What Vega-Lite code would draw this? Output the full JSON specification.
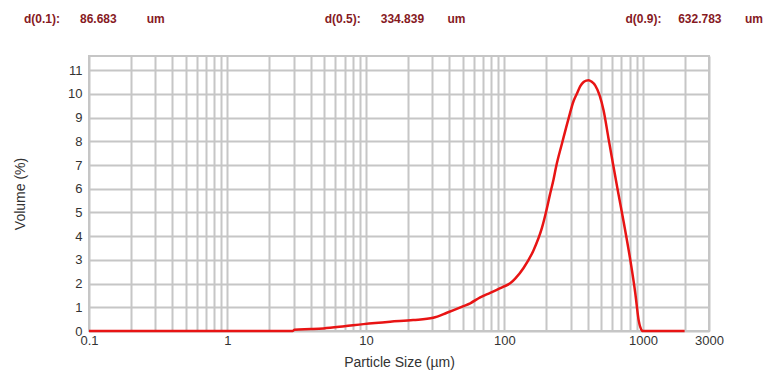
{
  "$schema": "https://vega.github.io/schema/vega-lite/v6.json",
  "width": 620,
  "height": 275,
  "autosize": {"type": "none"},
  "padding": {"left": 89, "top": 56, "right": 57, "bottom": 41},
  "background": "white",
  "config": {
    "font": "Liberation Sans",
    "view": {"stroke": "#c6c6c6", "strokeWidth": 2},
    "axis": {
      "domain": false,
      "ticks": false,
      "gridColor": "#c6c6c6",
      "gridWidth": 2,
      "gridOpacity": 1,
      "labelFont": "Liberation Sans",
      "labelFontSize": 13,
      "labelColor": "#333333",
      "titleFont": "Liberation Sans",
      "titleFontSize": 14,
      "titleFontWeight": "normal",
      "titleColor": "#333333"
    }
  },
  "title": {
    "text": "d(0.1):\u00a0\u00a0\u00a0\u00a0\u00a0\u00a086.683\u00a0\u00a0\u00a0\u00a0\u00a0\u00a0\u00a0\u00a0\u00a0um\u00a0\u00a0\u00a0\u00a0\u00a0\u00a0\u00a0\u00a0\u00a0\u00a0\u00a0\u00a0\u00a0\u00a0\u00a0\u00a0\u00a0\u00a0\u00a0\u00a0\u00a0\u00a0\u00a0\u00a0\u00a0\u00a0\u00a0\u00a0\u00a0\u00a0\u00a0\u00a0\u00a0\u00a0\u00a0\u00a0\u00a0\u00a0\u00a0\u00a0\u00a0\u00a0\u00a0\u00a0\u00a0\u00a0\u00a0\u00a0d(0.5):\u00a0\u00a0\u00a0\u00a0\u00a0\u00a0334.839\u00a0\u00a0\u00a0\u00a0\u00a0\u00a0\u00a0um\u00a0\u00a0\u00a0\u00a0\u00a0\u00a0\u00a0\u00a0\u00a0\u00a0\u00a0\u00a0\u00a0\u00a0\u00a0\u00a0\u00a0\u00a0\u00a0\u00a0\u00a0\u00a0\u00a0\u00a0\u00a0\u00a0\u00a0\u00a0\u00a0\u00a0\u00a0\u00a0\u00a0\u00a0\u00a0\u00a0\u00a0\u00a0\u00a0\u00a0\u00a0\u00a0\u00a0\u00a0\u00a0\u00a0\u00a0\u00a0d(0.9):\u00a0\u00a0\u00a0\u00a0\u00a0632.783\u00a0\u00a0\u00a0\u00a0\u00a0\u00a0\u00a0um",
    "anchor": "start",
    "frame": "group",
    "dx": -65,
    "limit": 2000,
    "font": "Liberation Sans",
    "fontSize": 12,
    "fontWeight": "bold",
    "color": "#861a1f",
    "offset": 30
  },
  "data": {
    "values": [
      {"size": 0.1, "vol": 0},
      {"size": 1, "vol": 0},
      {"size": 2.95, "vol": 0},
      {"size": 3.05, "vol": 0.05},
      {"size": 4.0, "vol": 0.08},
      {"size": 4.93, "vol": 0.11},
      {"size": 7.0, "vol": 0.2},
      {"size": 9.59, "vol": 0.29},
      {"size": 14.96, "vol": 0.39},
      {"size": 21.9, "vol": 0.46},
      {"size": 30.6, "vol": 0.56},
      {"size": 38.4, "vol": 0.77},
      {"size": 50.6, "vol": 1.05},
      {"size": 56.6, "vol": 1.17},
      {"size": 66.8, "vol": 1.42},
      {"size": 78.9, "vol": 1.61},
      {"size": 98.5, "vol": 1.87},
      {"size": 110, "vol": 2.01},
      {"size": 120, "vol": 2.22},
      {"size": 137.4, "vol": 2.66},
      {"size": 162.3, "vol": 3.41},
      {"size": 186.5, "vol": 4.35},
      {"size": 203, "vol": 5.2},
      {"size": 212, "vol": 5.7},
      {"size": 226.4, "vol": 6.4},
      {"size": 236.5, "vol": 6.95},
      {"size": 260, "vol": 7.9},
      {"size": 290, "vol": 8.95},
      {"size": 315.7, "vol": 9.7},
      {"size": 334, "vol": 10.02},
      {"size": 353, "vol": 10.33},
      {"size": 373, "vol": 10.5},
      {"size": 390, "vol": 10.56},
      {"size": 405.5, "vol": 10.58},
      {"size": 425, "vol": 10.52},
      {"size": 453, "vol": 10.35},
      {"size": 486, "vol": 9.95},
      {"size": 520, "vol": 9.3},
      {"size": 565, "vol": 8.1},
      {"size": 610, "vol": 7.0},
      {"size": 655, "vol": 6.0},
      {"size": 726, "vol": 4.6},
      {"size": 811, "vol": 2.99},
      {"size": 881, "vol": 1.59},
      {"size": 931, "vol": 0.46},
      {"size": 985, "vol": 0.02},
      {"size": 1000, "vol": 0},
      {"size": 2000, "vol": 0}
    ]
  },
  "mark": {"type": "line", "color": "#e81414", "strokeWidth": 2.5, "clip": false, "interpolate": "monotone"},
  "encoding": {
    "x": {
      "field": "size",
      "type": "quantitative",
      "scale": {"type": "log", "domain": [0.1, 3000], "nice": false},
      "axis": {
        "title": "Particle Size (µm)",
        "values": [0.1, 0.2, 0.3, 0.4, 0.5, 0.6, 0.7, 0.8, 0.9, 1, 2, 3, 4, 5, 6, 7, 8, 9, 10, 20, 30, 40, 50, 60, 70, 80, 90, 100, 200, 300, 400, 500, 600, 700, 800, 900, 1000, 2000, 3000],
        "format": "~g",
        "labelExpr": "indexof([0.1, 1, 10, 100, 1000, 3000], datum.value) >= 0 ? datum.label : ''",
        "labelOverlap": false,
        "labelFlush": false,
        "labelBound": false,
        "labelPadding": 3,
        "titlePadding": 8
      }
    },
    "y": {
      "field": "vol",
      "type": "quantitative",
      "scale": {"domain": [0, 11.6], "nice": false, "zero": true},
      "axis": {
        "title": "Volume (%)",
        "values": [0, 1, 2, 3, 4, 5, 6, 7, 8, 9, 10, 11],
        "labelPadding": 7,
        "titlePadding": 40
      }
    }
  }
}
